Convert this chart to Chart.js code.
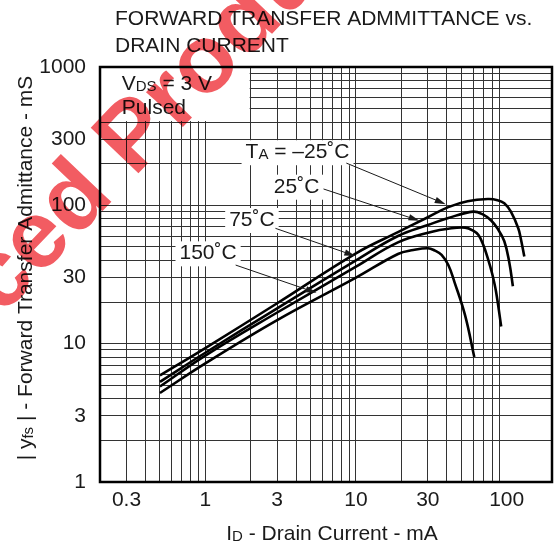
<!DOCTYPE html>
<html>
<head>
<meta charset="utf-8">
<script src="https://cdn.jsdelivr.net/npm/chart.js@4.4.1/dist/chart.umd.min.js"></script>
<style>
  html, body { margin: 0; padding: 0; background: #fff; }
  #wrap { width: 558px; height: 548px; }
</style>
</head>
<body>
<div id="wrap"><canvas id="yfsChart" width="558" height="548"></canvas></div>
<script>
// |yfs| (mS) against drain current (mA), one pair per temperature
const idM25  = [0.5, 1, 3, 10, 19, 30, 41, 55, 75, 87, 96.5, 106.7, 119.4, 124, 131];
const yfsM25 = [5.9, 9.3, 19.6, 45, 64, 82, 97, 107, 111, 109, 103.5, 90, 68.3, 57.8, 42.6];
const id25   = [0.5, 1, 3, 10, 19, 30, 41, 60, 69.5, 78.6, 87, 96.5, 104, 110];
const yfs25  = [5.3, 8.6, 18, 40, 60, 72, 81, 90, 86, 78, 68, 55, 39, 26];
const id75   = [0.5, 1, 3, 10, 19, 32, 41, 53, 60, 65, 70, 75, 80, 85, 92];
const yfs75  = [4.9, 8.2, 16.8, 36, 54, 64.5, 67.8, 69, 65.6, 61, 51.7, 41.4, 32.3, 23.8, 13.3];
const id150  = [0.5, 1, 3, 10, 19, 24, 30, 33.5, 37, 41, 45, 53, 61];
const yfs150 = [4.4, 7.2, 14.8, 30, 44.5, 47.5, 49, 47, 43.8, 37, 28, 16, 8];

const xTickLabels = [0.3, 1, 3, 10, 30, 100];
const yTickLabels = [1, 3, 10, 30, 100, 300, 1000];

const FONT = '"Liberation Sans", Arial, Helvetica, sans-serif';
const INK = '#1a1a1a';

// 1-2-3...9 lines for every decade
function logGrid(lo, hi) {
    const out = [];
    for (let d = lo; d < hi; d *= 10) {
        for (let m = 1; m < 10; m++) out.push(+(d * m).toPrecision(3));
    }
    out.push(hi);
    return out;
}
const xGrid = logGrid(0.1, 1000).filter(v => v >= 0.2 && v <= 200);
const yGrid = logGrid(1, 1000);

function pts(xs, ys) {
    return xs.map((x, i) => ({ x: x, y: ys[i] }));
}

// labels with arrows, placed in data units (mA, mS)
const notes = [
    { parts: [['T', 0], ['A', 1], [' = \u201325\u02DAC', 0]], at: [1.85, 219], tail: [8.63, 202], tip: [39.4, 102] },
    { parts: [['25\u02DAC', 0]], at: [2.85, 123.4], tail: [6.09, 131.3], tip: [26.4, 77.4] },
    { parts: [['75\u02DAC', 0]], at: [1.44, 70.9], tail: [2.92, 68.2], tip: [9.9, 43] },
    { parts: [['150\u02DAC', 0]], at: [0.674, 40.7], tail: [1.59, 37.0], tip: [5.47, 23.3] }
];

function setFont(ctx, sub) {
    ctx.font = (sub ? '15px ' : '21px ') + FONT;
}
function richWidth(ctx, parts) {
    let w = 0;
    parts.forEach(p => { setFont(ctx, p[1]); w += ctx.measureText(p[0]).width; });
    return w;
}
function drawRich(ctx, parts, x, y) {
    ctx.textAlign = 'left';
    ctx.textBaseline = 'alphabetic';
    parts.forEach(p => {
        setFont(ctx, p[1]);
        ctx.fillText(p[0], x, y + (p[1] ? 1 : 0));
        x += ctx.measureText(p[0]).width;
    });
}
function arrow(ctx, x1, y1, x2, y2) {
    const a = Math.atan2(y2 - y1, x2 - x1);
    ctx.lineWidth = 1;
    ctx.beginPath();
    ctx.moveTo(x1, y1);
    ctx.lineTo(x2 - 8 * Math.cos(a), y2 - 8 * Math.sin(a));
    ctx.stroke();
    ctx.beginPath();
    ctx.moveTo(x2, y2);
    ctx.lineTo(x2 - 11 * Math.cos(a) + 3.2 * Math.sin(a), y2 - 11 * Math.sin(a) - 3.2 * Math.cos(a));
    ctx.lineTo(x2 - 11 * Math.cos(a) - 3.2 * Math.sin(a), y2 - 11 * Math.sin(a) + 3.2 * Math.cos(a));
    ctx.closePath();
    ctx.fill();
}

const sheetDecor = {
    id: 'sheetDecor',
    beforeDatasetsDraw(chart) {
        const { ctx, scales: { x, y } } = chart;
        ctx.save();
        ctx.fillStyle = '#fff';
        // empty corner for the test condition text
        const l = x.getPixelForValue(0.2), r = x.getPixelForValue(2);
        const t = y.getPixelForValue(1000), b = y.getPixelForValue(400);
        ctx.fillRect(l + 1, t + 1, r - l - 2, b - t - 2);
        // white boxes behind the curve labels
        notes.forEach(n => {
            const px = x.getPixelForValue(n.at[0]), py = y.getPixelForValue(n.at[1]);
            const w = richWidth(ctx, n.parts);
            ctx.fillStyle = '#fff';
            ctx.fillRect(px - 4, py - 18, w + 8, 25);
        });
        ctx.restore();
    },
    afterDraw(chart) {
        const { ctx, chartArea: a, scales: { x, y } } = chart;
        ctx.save();
        ctx.fillStyle = INK;
        ctx.strokeStyle = INK;

        notes.forEach(n => {
            drawRich(ctx, n.parts, x.getPixelForValue(n.at[0]), y.getPixelForValue(n.at[1]));
            arrow(ctx, x.getPixelForValue(n.tail[0]), y.getPixelForValue(n.tail[1]),
                       x.getPixelForValue(n.tip[0]), y.getPixelForValue(n.tip[1]));
        });

        // test conditions
        const cx = x.getPixelForValue(0.279);
        drawRich(ctx, [['V', 0], ['DS', 1], [' = 3 V', 0]], cx, y.getPixelForValue(682));
        drawRich(ctx, [['Pulsed', 0]], cx, y.getPixelForValue(457));

        // frame
        ctx.lineWidth = 2.5;
        ctx.strokeStyle = '#000';
        ctx.strokeRect(a.left, a.top, a.right - a.left, a.bottom - a.top);

        // title
        ctx.fillStyle = INK;
        drawRich(ctx, [['FORWARD TRANSFER ADMMITTANCE vs.', 0]], 115, 25);
        drawRich(ctx, [['DRAIN CURRENT', 0]], 115, 52);

        // axis titles
        const xt = [['I', 0], ['D', 1], [' - Drain Current - mA', 0]];
        drawRich(ctx, xt, 332 - richWidth(ctx, xt) / 2, 540);
        const yt = [['| y', 0], ['fs', 1], [' | - Forward Transfer Admittance - mS', 0]];
        ctx.save();
        ctx.translate(32, 268);
        ctx.rotate(-Math.PI / 2);
        drawRich(ctx, yt, -richWidth(ctx, yt) / 2, 0);
        ctx.restore();

        // red watermark stamped across the upper left
        ctx.globalCompositeOperation = 'multiply';
        ctx.fillStyle = 'rgb(242, 92, 98)';
        ctx.font = 'bold 96px ' + FONT;
        ctx.translate(1.4, 316.8);
        ctx.rotate(-46.3 * Math.PI / 180);
        ctx.textAlign = 'left';
        ctx.textBaseline = 'alphabetic';
        ctx.fillText('ced Product', 0, 0);
        ctx.restore();
    }
};

function curve(label, xs, ys) {
    return {
        label: label,
        data: pts(xs, ys),
        borderColor: '#000',
        borderWidth: 2.6,
        pointRadius: 0,
        fill: false,
        tension: 0.4
    };
}

new Chart(document.getElementById('yfsChart'), {
    type: 'line',
    data: {
        datasets: [
            curve('-25\u02DAC', idM25, yfsM25),
            curve('25\u02DAC', id25, yfs25),
            curve('75\u02DAC', id75, yfs75),
            curve('150\u02DAC', id150, yfs150)
        ]
    },
    options: {
        responsive: false,
        animation: false,
        layout: { padding: { left: 0, right: 3, top: 67, bottom: 0 } },
        plugins: {
            legend: { display: false },
            tooltip: { enabled: false }
        },
        scales: {
            x: {
                type: 'logarithmic',
                min: 0.2,
                max: 200,
                afterBuildTicks: s => { s.ticks = xGrid.map(v => ({ value: v })); },
                afterFit: s => { s.height = 66; },
                border: { display: false },
                grid: {
                    drawTicks: false,
                    lineWidth: 1,
                    color: c => (c.tick && (c.tick.value <= 0.2 || c.tick.value >= 100)) ? 'rgba(0,0,0,0)' : '#333'
                },
                ticks: {
                    autoSkip: false,
                    maxRotation: 0,
                    padding: 6,
                    color: INK,
                    font: { family: FONT, size: 21 },
                    callback: v => xTickLabels.includes(v) ? String(v) : ''
                }
            },
            y: {
                type: 'logarithmic',
                min: 1,
                max: 1000,
                afterBuildTicks: s => { s.ticks = yGrid.map(v => ({ value: v })); },
                afterFit: s => { s.width = 100; },
                border: { display: false },
                grid: {
                    drawTicks: false,
                    lineWidth: 1,
                    color: c => (c.tick && (c.tick.value <= 1 || c.tick.value >= 1000)) ? 'rgba(0,0,0,0)' : '#333'
                },
                ticks: {
                    autoSkip: false,
                    padding: 14,
                    color: INK,
                    font: { family: FONT, size: 21 },
                    callback: v => yTickLabels.includes(v) ? String(v) : ''
                }
            }
        }
    },
    plugins: [sheetDecor]
});
</script>
</body>
</html>
